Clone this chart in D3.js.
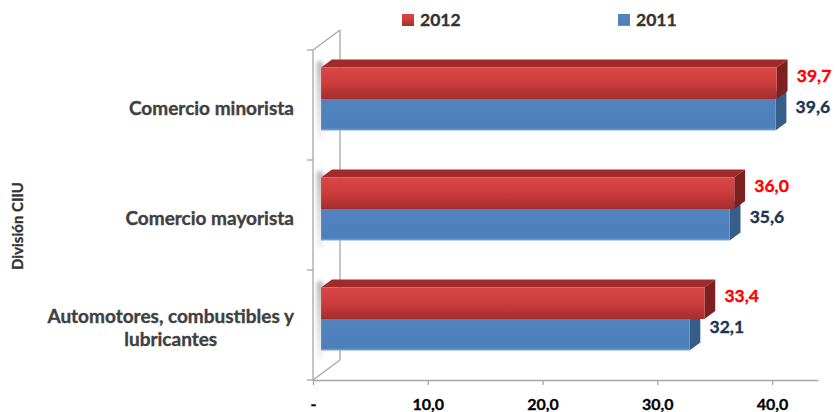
<!DOCTYPE html>
<html>
<head>
<meta charset="utf-8">
<script src="https://cdn.jsdelivr.net/npm/d3@7/dist/d3.min.js"></script>
<style>
  html, body { margin: 0; padding: 0; background: #fff; }
  svg { display: block; }
  text { font-family: Lato, "Open Sans", sans-serif; font-weight: bold; }
</style>
</head>
<body>
<svg id="chart" width="838" height="412"></svg>
<script>
// Categories listed top to bottom
const categories = ["Comercio minorista", "Comercio mayorista", "Automotores, combustibles y lubricantes"];
const categoryLines = [["Comercio minorista"], ["Comercio mayorista"], ["Automotores, combustibles y", "lubricantes"]];
const seriesNames = ["2012", "2011"];
const values2012 = [39.7, 36.0, 33.4];
const values2011 = [39.6, 35.6, 32.1];
const xTickValues = [0, 10, 20, 30, 40];
const axisTitle = "División CIIU";

const svg = d3.select("#chart");

// Plot frame (front plane) and perspective depth of the 3D box
const plotLeft = 313, plotRight = 818, plotTop = 50, plotBottom = 380;
const depthX = 27, depthY = -20;          // full depth offset of the box
const barD0 = 0.3, barD1 = 0.7;          // bar depth span as box fraction

const x = d3.scaleLinear().domain([0, 44]).range([plotLeft, plotRight]);
const yCat = d3.scaleBand().domain(categories).range([plotTop, plotBottom]);
const groupH = 63;
const ySer = d3.scaleBand().domain(seriesNames).range([0, groupH]);

const proj = (px, py, d) => [px + d * depthX, py + d * depthY];
const fmt = v => v === 0 ? "-" : d3.format(".1f")(v).replace(".", ",");

const defs = svg.append("defs");
const redGrad = defs.append("linearGradient").attr("id", "redFront")
  .attr("x1", 0).attr("y1", 0).attr("x2", 0).attr("y2", 1);
redGrad.append("stop").attr("offset", "0%").attr("stop-color", "#d84646");
redGrad.append("stop").attr("offset", "45%").attr("stop-color", "#cf3e3e");
redGrad.append("stop").attr("offset", "100%").attr("stop-color", "#a52d2d");
const blueGrad = defs.append("linearGradient").attr("id", "blueFront")
  .attr("x1", 0).attr("y1", 0).attr("x2", 0).attr("y2", 1);
blueGrad.append("stop").attr("offset", "0%").attr("stop-color", "#5183bf");
blueGrad.append("stop").attr("offset", "92%").attr("stop-color", "#4d7fbb");
blueGrad.append("stop").attr("offset", "100%").attr("stop-color", "#7ea6d6");
const shadowGrad = defs.append("linearGradient").attr("id", "wallShadow")
  .attr("x1", 0).attr("y1", 0).attr("x2", 0).attr("y2", 1);
shadowGrad.append("stop").attr("offset", "0%").attr("stop-color", "#6e6e6e").attr("stop-opacity", 0.55);
shadowGrad.append("stop").attr("offset", "100%").attr("stop-color", "#9a9a9a").attr("stop-opacity", 0.15);
defs.append("filter").attr("id", "soft").attr("x", "-100%").attr("y", "-30%")
  .attr("width", "300%").attr("height", "160%")
  .append("feGaussianBlur").attr("stdDeviation", 2);

const palette = {
  "2012": { front: "url(#redFront)", top: "#a12b2b", side: "#7c2020", label: "#ff0000" },
  "2011": { front: "url(#blueFront)", top: "#4170a8", side: "#375d8b", label: "#1c3552" }
};
const seriesValues = { "2012": values2012, "2011": values2011 };

// Walls: left side wall and floor edge
const wallColor = "#a6a6a6";
const wall = svg.append("g").attr("stroke", wallColor).attr("stroke-width", 1.3).attr("fill", "none");
const x0 = x(0);
const backTop = proj(x0, plotTop, 1), backBot = proj(x0, plotBottom, 1);
wall.append("line").attr("x1", x0).attr("y1", plotTop).attr("x2", x0).attr("y2", plotBottom);
wall.append("line").attr("x1", backTop[0]).attr("y1", backTop[1]).attr("x2", backBot[0]).attr("y2", backBot[1]);
wall.append("line").attr("x1", x0).attr("y1", plotTop).attr("x2", backTop[0]).attr("y2", backTop[1]);
wall.append("line").attr("x1", x0).attr("y1", plotBottom).attr("x2", backBot[0]).attr("y2", backBot[1]);
const boundaries = categories.map(c => yCat(c)).concat([plotBottom]);
wall.selectAll(".ytick").data(boundaries).join("line")
  .attr("x1", x0 - 6).attr("x2", x0).attr("y1", d => d).attr("y2", d => d);

// Value axis along the bottom front edge
const axis = d3.axisBottom(x).tickValues(xTickValues).tickSize(5).tickSizeOuter(0).tickFormat(fmt);
const axisG = svg.append("g").attr("transform", `translate(0,${plotBottom})`).call(axis);
axisG.select(".domain").attr("stroke", wallColor).attr("stroke-width", 1.3);
axisG.selectAll(".tick line").attr("stroke", wallColor).attr("stroke-width", 1.3);
axisG.selectAll(".tick text").attr("y", 30).attr("dy", 0)
  .attr("fill", "#000").attr("stroke", "#000").attr("stroke-width", 0.3)
  .style("font-size", "16px").style("font-family", "Lato, sans-serif").style("font-weight", "bold");

// Bars
const barsG = svg.append("g");
categories.forEach((cat, i) => {
  const gTop = yCat(cat) + (yCat.bandwidth() - groupH) / 2;
  // soft shadow cast onto the side wall
  const sTop = proj(x0, gTop, barD0)[1];
  barsG.append("rect")
    .attr("x", x0 + 4).attr("y", sTop - 6).attr("width", 6).attr("height", groupH + 14)
    .attr("fill", "url(#wallShadow)").attr("filter", "url(#soft)");
  // lower series first so the upper series sits over its top face
  seriesNames.slice().reverse().forEach(s => {
    const v = seriesValues[s][i];
    const yT = gTop + ySer(s), yB = yT + ySer.bandwidth();
    const xL = x(0), xR = x(v);
    const fTL = proj(xL, yT, barD0), fTR = proj(xR, yT, barD0);
    const fBR = proj(xR, yB, barD0), fBL = proj(xL, yB, barD0);
    const bTL = proj(xL, yT, barD1), bTR = proj(xR, yT, barD1), bBR = proj(xR, yB, barD1);
    const poly = pts => pts.map(p => p.join(",")).join(" ");
    barsG.append("polygon").attr("points", poly([fTL, fTR, bTR, bTL])).attr("fill", palette[s].top);
    barsG.append("polygon").attr("points", poly([fTR, bTR, bBR, fBR])).attr("fill", palette[s].side);
    barsG.append("rect").attr("x", fTL[0]).attr("y", fTL[1])
      .attr("width", fTR[0] - fTL[0]).attr("height", fBL[1] - fTL[1])
      .attr("fill", palette[s].front);
    // value label beside the bar end
    const lx = fTR[0] + 20, ly = (bTR[1] + bBR[1]) / 2;
    svg.append("text").attr("x", lx).attr("y", ly).attr("dy", "0.36em")
      .attr("fill", palette[s].label).attr("stroke", palette[s].label).attr("stroke-width", 0.35)
      .style("font-size", "17.5px").text(fmt(v));
  });
});

// Category labels
categories.forEach((cat, i) => {
  const lines = categoryLines[i];
  const cy = yCat(cat) + yCat.bandwidth() / 2 + 3;
  const lh = 23;
  const t = svg.append("text").attr("fill", "#404040").attr("stroke", "#404040").attr("stroke-width", 0.35)
    .style("font-size", "19px");
  if (lines.length === 1) {
    t.attr("text-anchor", "end").attr("x", 294).attr("y", cy).attr("dy", "0.36em").text(lines[0]);
  } else {
    const spans = lines.map((ln, k) =>
      t.append("tspan").attr("y", cy + (k - (lines.length - 1) / 2) * lh).attr("dy", "0.36em").text(ln));
    const maxW = d3.max(spans, ts => ts.node().getComputedTextLength());
    const cx = 294 - maxW / 2;
    spans.forEach(ts => ts.attr("x", cx).attr("text-anchor", "middle"));
  }
});

// Axis title
svg.append("text").attr("transform", `translate(23,226) rotate(-90)`)
  .attr("text-anchor", "middle").attr("fill", "#333").attr("stroke", "#333").attr("stroke-width", 0.3)
  .style("font-size", "15px").text(axisTitle);

// Legend
const legend = [{ s: "2012", x: 402 }, { s: "2011", x: 618 }];
legend.forEach(l => {
  svg.append("rect").attr("x", l.x).attr("y", 14).attr("width", 12).attr("height", 12)
    .attr("fill", palette[l.s].front);
  svg.append("text").attr("x", l.x + 18).attr("y", 20).attr("dy", "0.36em")
    .attr("fill", "#333").attr("stroke", "#333").attr("stroke-width", 0.35)
    .style("font-size", "17.5px").text(l.s);
});
</script>
</body>
</html>
